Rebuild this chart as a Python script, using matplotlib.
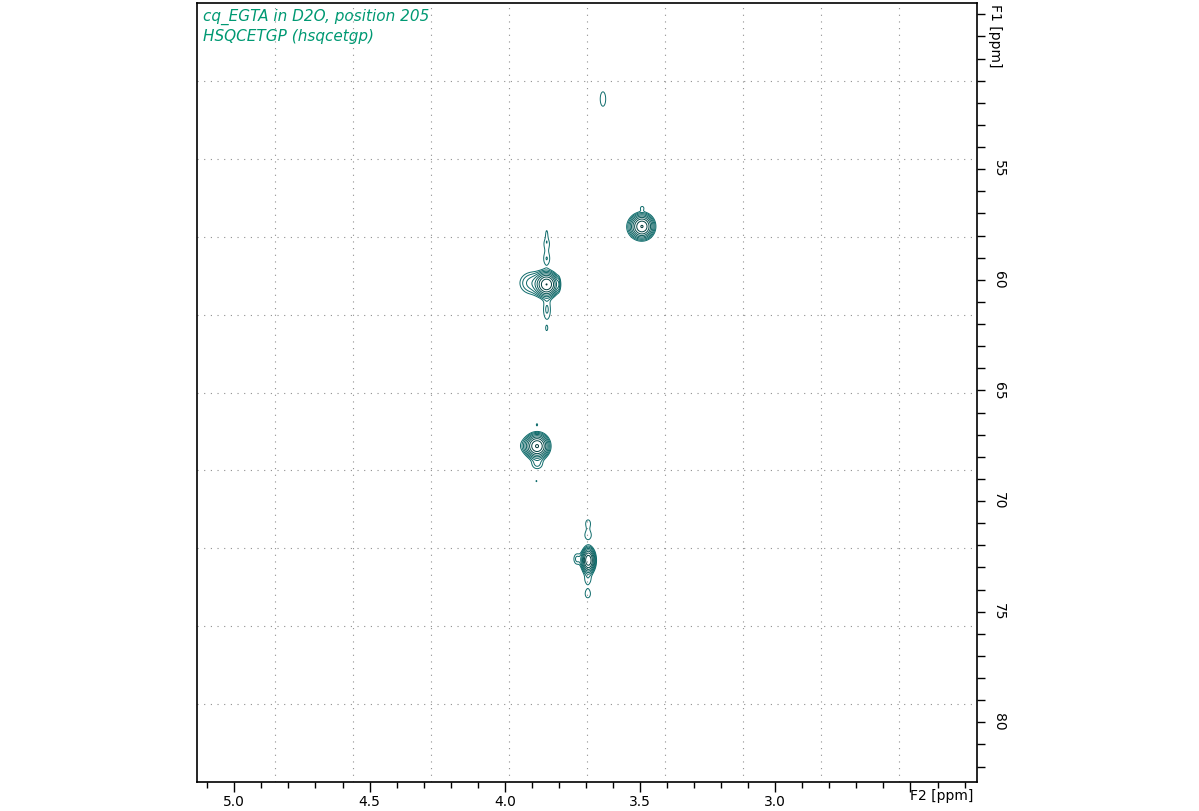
import numpy as np
import matplotlib
matplotlib.use('Agg')
import matplotlib.pyplot as plt
from matplotlib.colors import LinearSegmentedColormap
from matplotlib.ticker import MultipleLocator

# peak list: F2 (1H, ppm), F1 (13C, ppm), amplitude (in units of lowest level), widths (ppm)
peak_f2 = [3.637, 3.492, 3.515, 3.492,
           3.845, 3.898, 3.845, 3.845, 3.845, 3.844, 3.845, 3.801,
           3.880, 3.902, 3.880, 3.881, 3.883,
           3.691, 3.733, 3.692, 3.692, 3.693, 3.693]
peak_f1 = [51.83, 57.59, 57.62, 56.75,
           60.21, 60.15, 57.90, 58.35, 59.05, 61.35, 62.20, 60.20,
           67.52, 67.50, 68.34, 66.55, 69.10,
           72.68, 72.62, 71.00, 71.55, 73.55, 74.20]
peak_amp = [1.35, 25.0, 2.0, 1.15,
            25.0, 2.8, 1.1, 1.35, 1.5, 1.6, 1.15, 1.4,
            25.0, 2.2, 1.6, 1.1, 1.08,
            24.0, 1.7, 1.3, 1.4, 1.25, 1.3]
peak_wf2 = [0.013, 0.020, 0.022, 0.008,
            0.020, 0.032, 0.004, 0.012, 0.012, 0.013, 0.004, 0.004,
            0.020, 0.028, 0.018, 0.005, 0.004,
            0.012, 0.011, 0.011, 0.014, 0.014, 0.013]
peak_wf1 = [0.42, 0.26, 0.28, 0.10,
            0.26, 0.34, 0.20, 0.25, 0.28, 0.45, 0.12, 0.22,
            0.26, 0.24, 0.20, 0.10, 0.08,
            0.27, 0.22, 0.20, 0.22, 0.22, 0.24]

n_levels = 9
level_factor = 1.5
f2_ticks = [2.5, 3.0, 3.5, 4.0, 4.5, 5.0]
f1_ticks = [50, 55, 60, 65, 70, 75, 80]

title_lines = ['cq_EGTA in D2O, position 205', 'HSQCETGP (hsqcetgp)']

# build the 2D spectrum from the peak list
f2 = np.linspace(2.25, 5.14, 1600)
f1 = np.linspace(47.4, 82.8, 1400)
X, Y = np.meshgrid(f2, f1)
Z = np.zeros_like(X)
for x0, y0, a, sx, sy in zip(peak_f2, peak_f1, peak_amp, peak_wf2, peak_wf1):
    Z += a * np.exp(-0.5 * ((X - x0) / sx) ** 2 - 0.5 * ((Y - y0) / sy) ** 2)

levels = level_factor ** np.arange(n_levels)

fig = plt.figure(figsize=(11.99, 8.11), dpi=100)
ax = fig.add_axes([197 / 1199, 1 - 782 / 811, 780 / 1199, 779 / 811])

cmap = LinearSegmentedColormap.from_list('tsp', ['#0f6c6c', '#004444', '#003636'])
ax.contour(X, Y, Z, levels=levels, cmap=cmap, linewidths=0.7)

ax.set_xlim(5.138, 2.254)
ax.set_ylim(82.70, 47.49)

# TopSpin-style grid: 10 equal divisions of the frame
for k in range(1, 10):
    ax.plot([k / 10, k / 10], [0, 1], transform=ax.transAxes, color='#8f8f8f',
            lw=0.8, ls=(0, (1, 5)), zorder=0)
    ax.plot([0, 1], [k / 10, k / 10], transform=ax.transAxes, color='#8f8f8f',
            lw=0.8, ls=(0, (1, 5)), zorder=0)

# x axis
ax.set_xticks(f2_ticks)
ax.set_xticklabels(['' if t == 2.5 else f'{t:.1f}' for t in f2_ticks])
ax.xaxis.set_minor_locator(MultipleLocator(0.1))
ax.tick_params(axis='x', which='major', length=7, width=1, direction='out', labelsize=10, pad=2)
ax.tick_params(axis='x', which='minor', length=4, width=1, direction='out')
ax.text(2.5, -0.009, 'F2 [ppm]', transform=ax.get_xaxis_transform(), ha='left', va='top',
        fontsize=10, color='black')

# y axis on the right, rotated labels
ax.yaxis.tick_right()
ax.set_yticks(f1_ticks)
ax.set_yticklabels(['' if t == 50 else str(t) for t in f1_ticks])
ax.yaxis.set_minor_locator(MultipleLocator(1))
ax.tick_params(axis='y', which='both', length=6, width=1, direction='out', left=False, right=True,
               labelsize=10, pad=5)
for lab in ax.get_yticklabels():
    lab.set_rotation(-90)
    lab.set_va('center')
ax.text(1.0 + 18 / 780, 1 - 33 / 779, 'F1 [ppm]', transform=ax.transAxes, rotation=-90,
        ha='center', va='center', fontsize=10, color='black')

for s in ax.spines.values():
    s.set_linewidth(1.2)
    s.set_color('black')

ax.text(6 / 780, 1 - 14 / 779, title_lines[0], transform=ax.transAxes, ha='left', va='center',
        fontsize=11, style='italic', color='#009973')
ax.text(6 / 780, 1 - 34 / 779, title_lines[1], transform=ax.transAxes, ha='left', va='center',
        fontsize=11, style='italic', color='#009973')

fig.savefig('out.png', dpi=100, facecolor='white')
